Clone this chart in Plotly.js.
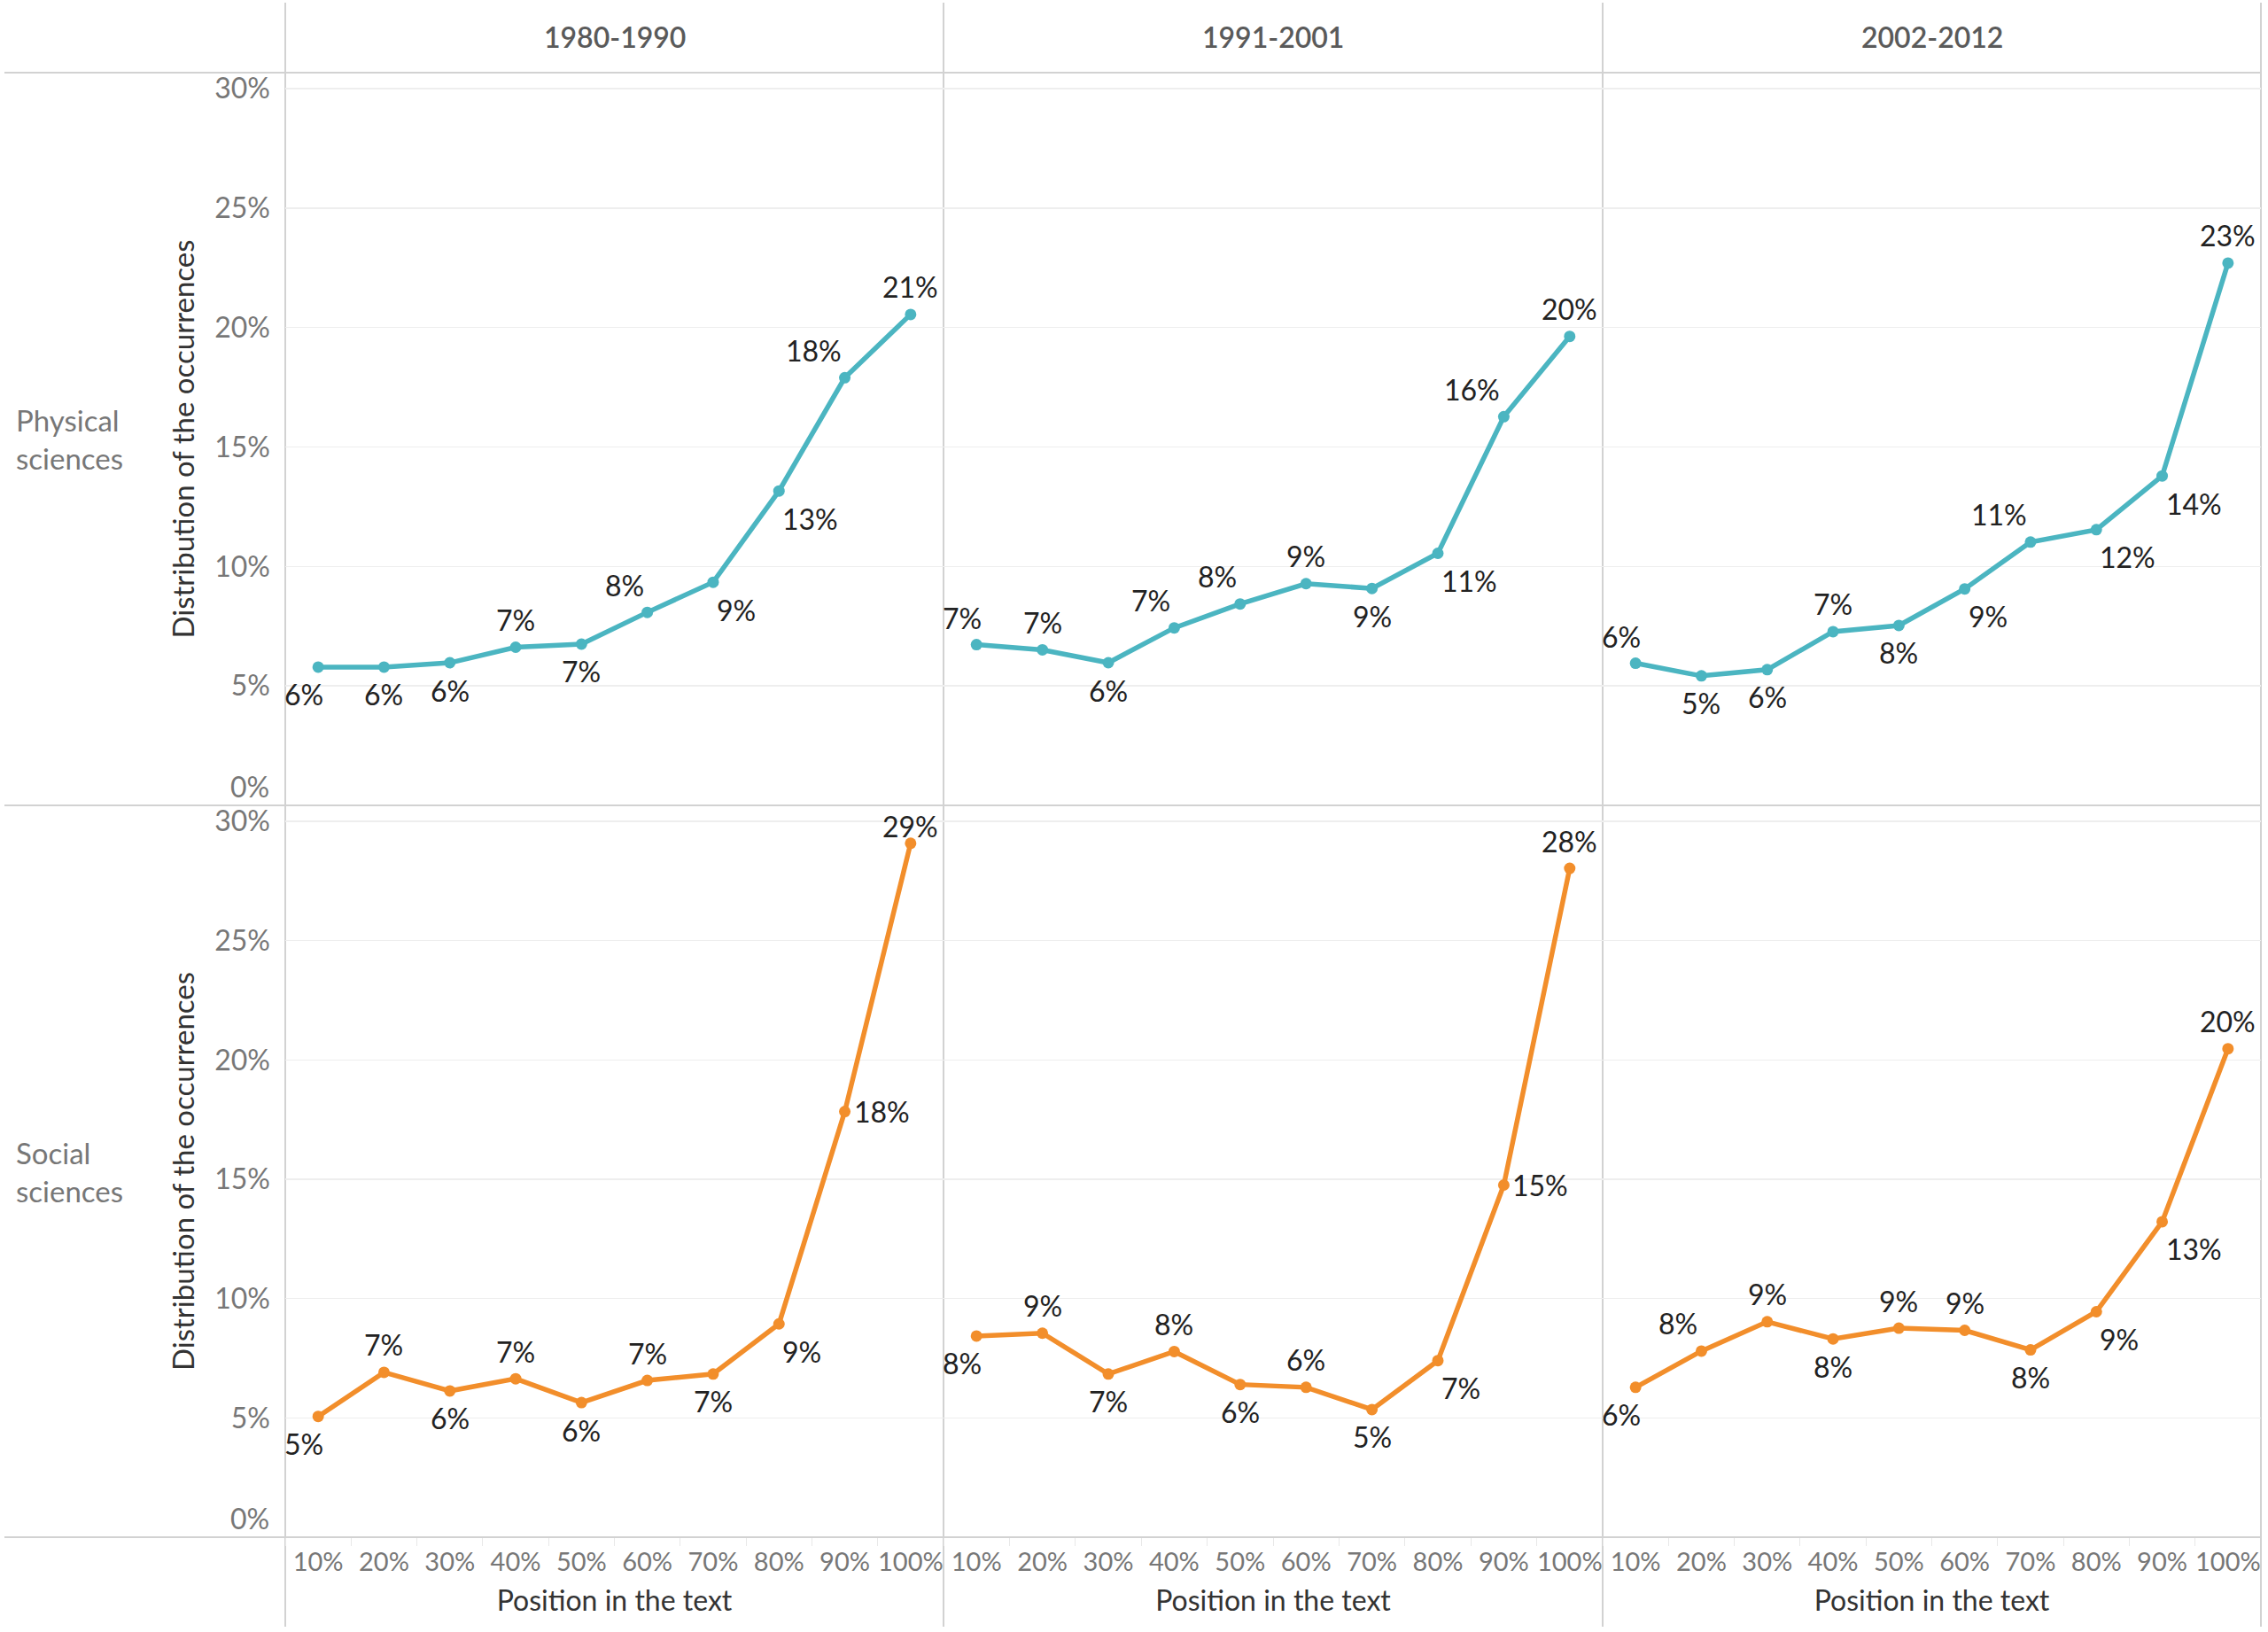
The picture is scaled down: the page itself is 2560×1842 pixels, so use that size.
<!DOCTYPE html>
<html>
<head>
<meta charset="utf-8">
<script src="https://cdn.plot.ly/plotly-3.0.1.min.js"></script>
<style>html,body{margin:0;padding:0;background:#fff;}#chart{width:2560px;height:1842px;}</style>
</head>
<body>
<div id="chart"></div>
<script>
// ---------- DATA ----------
const positions = ['10%','20%','30%','40%','50%','60%','70%','80%','90%','100%'];
const periods = ['1980-1990','1991-2001','2002-2012'];
const fields = ['Physical<br>sciences','Social<br>sciences'];
const yTickValues = [0,5,10,15,20,25,30];
const yTickLabels = ['0%','5%','10%','15%','20%','25%','30%'];

const physical_1980_1990 = [5.79,5.79,5.97,6.62,6.75,8.08,9.34,13.16,17.90,20.55];
const physical_1991_2001 = [6.73,6.51,5.97,7.43,8.43,9.28,9.08,10.55,16.27,19.63];
const physical_2002_2012 = [5.95,5.42,5.68,7.27,7.53,9.06,11.02,11.54,13.79,22.70];
const social_1980_1990   = [5.06,6.91,6.13,6.64,5.64,6.57,6.84,8.94,17.84,29.08];
const social_1991_2001   = [8.43,8.55,6.84,7.78,6.40,6.28,5.35,7.40,14.76,28.03];
const social_2002_2012   = [6.28,7.80,9.03,8.31,8.76,8.67,7.85,9.45,13.22,20.47];

// ---------- STYLE ----------
const FONT = 'Lato, "Open Sans", sans-serif';
const colors = ['#4bb5c1', '#f28e2b'];
// label placement codes (style only)
const labelPlacement = [
  [['B0','B','B','T','B','TL','BR','BR','TL','T'],
   ['T0','T','B','TL','TL','T','B','BR','TL','T'],
   ['T0','B','B','T','B','BR','TL','BR','BR','T']],
  [['B0','T','B','T','B','T','B','BR','R','Tn'],
   ['B0','T','B','T','B','T','B','BR','R','T'],
   ['B0','TL','T','B','T','T','B','BR','BR','T']]
];
const placementStyle = {
  T:  {xanchor: 'center', xshift: 0,   yshift: 31},
  Tn: {xanchor: 'center', xshift: 0,   yshift: 19},
  B:  {xanchor: 'center', xshift: 0,   yshift: -31},
  TL: {xanchor: 'right',  xshift: -2,  yshift: 31},
  BR: {xanchor: 'left',   xshift: 2,   yshift: -31},
  R:  {xanchor: 'left',   xshift: 8,   yshift: 0},
  T0: {xanchor: 'center', xshift: -16, yshift: 30},
  B0: {xanchor: 'center', xshift: -16, yshift: -31}
};
const series = [
  [physical_1980_1990, physical_1991_2001, physical_2002_2012],
  [social_1980_1990, social_1991_2001, social_2002_2012]
];

const W = 2560, H = 1842;
const colEdges = [322, 1065, 1809, 2552];
const rowEdges = [82, 909, 1735];
const px = v => v / W;
const py = v => 1 - v / H;

const traces = [];
const layout = {
  width: W, height: H,
  margin: {l:0, r:0, t:0, b:0},
  paper_bgcolor: '#fff', plot_bgcolor: '#fff',
  showlegend: false,
  font: {family: FONT, color: '#333'},
  annotations: [], shapes: []
};

for (let r = 0; r < 2; r++) {
  for (let c = 0; c < 3; c++) {
    const i = r * 3 + c + 1;
    const xa = 'x' + (i === 1 ? '' : i), ya = 'y' + (i === 1 ? '' : i);
    const vals = series[r][c];
    traces.push({
      type: 'scatter', mode: 'lines+markers',
      x: positions, y: vals,
      xaxis: xa, yaxis: ya,
      line: {color: colors[r], width: 5.5},
      marker: {color: colors[r], size: 13},
      cliponaxis: false,
      hoverinfo: 'skip'
    });
    vals.forEach((v, j) => {
      const st = placementStyle[labelPlacement[r][c][j]];
      layout.annotations.push({
        xref: xa, yref: ya, x: j, y: v,
        text: Math.round(v) + '%',
        showarrow: false,
        xanchor: st.xanchor, yanchor: 'middle',
        xshift: st.xshift, yshift: st.yshift,
        font: {family: FONT, size: 32, color: '#222'}
      });
    });
    layout['xaxis' + (i === 1 ? '' : i)] = {
      domain: [px(colEdges[c]), px(colEdges[c+1])],
      anchor: ya,
      type: 'category', categoryarray: positions,
      range: [-0.5, positions.length - 0.5],
      showgrid: false, zeroline: false, showline: false,
      showticklabels: r === 1, tickangle: 0,
      ticks: r === 1 ? 'outside' : '', tickson: 'boundaries',
      ticklen: 9, tickcolor: '#e8e8e8', tickwidth: 1,
      ticklabelstandoff: 8,
      tickfont: {family: FONT, size: 29, color: '#777'},
      title: r === 1 ? {text: 'Position in the text', font: {family: FONT, size: 32, color: '#333'}, standoff: 17} : {text: ''},
      fixedrange: true
    };
    layout['yaxis' + (i === 1 ? '' : i)] = {
      domain: [py(rowEdges[r+1]), py(rowEdges[r])],
      anchor: xa,
      range: [0, 30.67],
      tickmode: 'array',
      tickvals: yTickValues.slice(1), ticktext: yTickLabels.slice(1),
      showticklabels: c === 0,
      ticks: '', ticklabelstandoff: 16,
      tickfont: {family: FONT, size: 32, color: '#777'},
      showgrid: true, gridcolor: '#eeeeee', gridwidth: 1.5,
      zeroline: false, showline: false,
      title: c === 0 ? {text: 'Distribution of the occurrences', font: {family: FONT, size: 33, color: '#333'}, standoff: 12} : {text: ''},
      fixedrange: true
    };
    if (c === 0) {
      layout.annotations.push({
        xref: xa + ' domain', x: 0, xanchor: 'right', xshift: -16,
        yref: ya, y: yTickValues[0], yanchor: 'middle', yshift: 22,
        text: yTickLabels[0], showarrow: false,
        font: {family: FONT, size: 32, color: '#777'}
      });
    }
  }
  // row label
  layout.annotations.push({
    xref: 'paper', yref: 'paper', x: px(16), xanchor: 'left',
    y: py((rowEdges[r] + rowEdges[r+1]) / 2), yanchor: 'middle',
    text: fields[r], align: 'left', showarrow: false,
    font: {family: FONT, size: 33, color: '#777'}
  });
}
// column headers
for (let c = 0; c < 3; c++) {
  layout.annotations.push({
    xref: 'paper', yref: 'paper',
    x: px((colEdges[c] + colEdges[c+1]) / 2), xanchor: 'center',
    y: py(41), yanchor: 'middle',
    text: periods[c], showarrow: false,
    font: {family: FONT, size: 32, color: '#5a5a5a', weight: 600}
  });
}
// frame lines
const lineStyle = {color: '#d2d2d2', width: 2};
rowEdges.forEach(yv => layout.shapes.push({type: 'line', xref: 'paper', yref: 'paper', x0: px(5), x1: px(2552), y0: py(yv), y1: py(yv), line: lineStyle, layer: 'above'}));
colEdges.forEach(xv => layout.shapes.push({type: 'line', xref: 'paper', yref: 'paper', x0: px(xv), x1: px(xv), y0: py(3), y1: py(1836), line: lineStyle, layer: 'below'}));

Plotly.newPlot('chart', traces, layout, {staticPlot: true, displayModeBar: false});
</script>
</body>
</html>
